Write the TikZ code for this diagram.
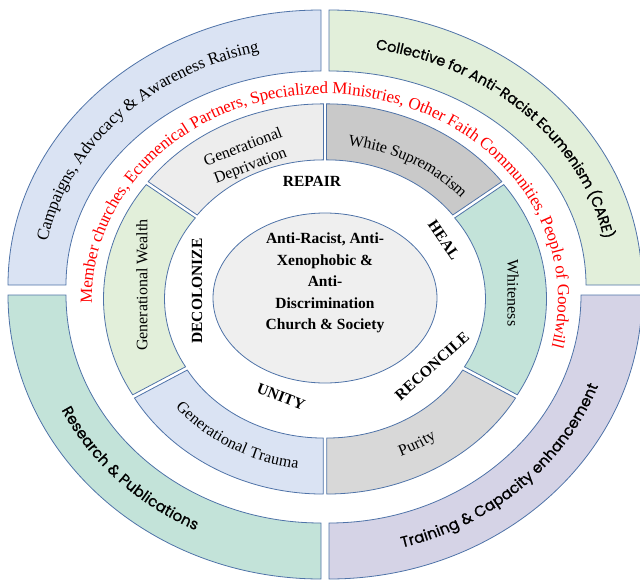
\documentclass[tikz,border=0pt]{standalone}
\usepackage{fontspec}
\setmainfont{Liberation Serif}
\newfontfamily\gothic{Poppins}[FakeBold=1]
\usetikzlibrary{calc,decorations.text}
\definecolor{rimline}{HTML}{4F73A8}
\definecolor{qblue}{HTML}{DAE3F3}
\definecolor{qgreen}{HTML}{E2EFDA}
\definecolor{qteal}{HTML}{C3E3D9}
\definecolor{qpurple}{HTML}{D5D3E6}
\definecolor{depr}{HTML}{EDEDED}
\definecolor{supr}{HTML}{C9C9C9}
\definecolor{puri}{HTML}{D8D8D8}
\definecolor{corefill}{HTML}{EFEFEF}

\begin{document}
\begin{tikzpicture}[x=1pt,y=1pt,
  piece/.style={draw=rimline,line width=0.8pt},
  word/.style={font=\fontsize{15.5}{15.5}\selectfont\bfseries},
  seg/.style={font=\fontsize{16}{20}\selectfont}]

\useasboundingbox (0,0) rectangle (640,-581);
\clip (0,0) rectangle (640,-581);

\coordinate (TL) at (321,-285);
\coordinate (TR) at (329,-285);
\coordinate (BL) at (321,-295);
\coordinate (BR) at (329,-295);
\coordinate (O)  at (325,-299);

\draw[piece,fill=qblue]   ($(TL)+(180:313pt and 275pt)$) arc[start angle=180,end angle=90,x radius=313pt,y radius=275pt]
                          -- ($(TL)+(90:255pt and 214pt)$) arc[start angle=90,end angle=180,x radius=255pt,y radius=214pt] -- cycle;
\draw[piece,fill=qgreen]  ($(TR)+(90:313pt and 275pt)$) arc[start angle=90,end angle=0,x radius=313pt,y radius=275pt]
                          -- ($(TR)+(0:257pt and 214pt)$) arc[start angle=0,end angle=90,x radius=257pt,y radius=214pt] -- cycle;
\draw[piece,fill=qteal]   ($(BL)+(180:313pt and 284pt)$) arc[start angle=180,end angle=270,x radius=313pt,y radius=284pt]
                          -- ($(BL)+(270:255pt and 228pt)$) arc[start angle=270,end angle=180,x radius=255pt,y radius=228pt] -- cycle;
\draw[piece,fill=qpurple] ($(BR)+(270:313pt and 284pt)$) arc[start angle=270,end angle=360,x radius=313pt,y radius=284pt]
                          -- ($(BR)+(0:252pt and 228pt)$) arc[start angle=360,end angle=270,x radius=252pt,y radius=228pt] -- cycle;

\draw[piece,fill=depr]   ($(O)+(116.75:3.5)+(90:218pt and 192pt)$) arc[start angle=90,end angle=143.5,x radius=218pt,y radius=192pt]
    -- ($(O)+(116.75:3.5)+(143.5:157pt and 136pt)$) arc[start angle=143.5,end angle=90,x radius=157pt,y radius=136pt] -- cycle;
\draw[piece,fill=supr]   ($(O)+(63.25:3.5)+(36.5:218pt and 192pt)$) arc[start angle=36.5,end angle=90,x radius=218pt,y radius=192pt]
    -- ($(O)+(63.25:3.5)+(90:157pt and 136pt)$) arc[start angle=90,end angle=36.5,x radius=157pt,y radius=136pt] -- cycle;
\draw[piece,fill=qteal]  ($(O)+(3.25:3.5)+(-30:218pt and 192pt)$) arc[start angle=-30,end angle=36.5,x radius=218pt,y radius=192pt]
    -- ($(O)+(3.25:3.5)+(36.5:157pt and 136pt)$) arc[start angle=36.5,end angle=-30,x radius=157pt,y radius=136pt] -- cycle;
\draw[piece,fill=puri]   ($(O)+(-60:3.5)+(-90:218pt and 192pt)$) arc[start angle=-90,end angle=-30,x radius=218pt,y radius=192pt]
    -- ($(O)+(-60:3.5)+(-30:157pt and 136pt)$) arc[start angle=-30,end angle=-90,x radius=157pt,y radius=136pt] -- cycle;
\draw[piece,fill=qblue]  ($(O)+(240:3.5)+(210:218pt and 192pt)$) arc[start angle=210,end angle=270,x radius=218pt,y radius=192pt]
    -- ($(O)+(240:3.5)+(270:157pt and 136pt)$) arc[start angle=270,end angle=210,x radius=157pt,y radius=136pt] -- cycle;
\draw[piece,fill=qgreen] ($(O)+(176.75:3.5)+(143.5:218pt and 192pt)$) arc[start angle=143.5,end angle=210,x radius=218pt,y radius=192pt]
    -- ($(O)+(176.75:3.5)+(210:157pt and 136pt)$) arc[start angle=210,end angle=143.5,x radius=157pt,y radius=136pt] -- cycle;

\draw[piece,fill=corefill] (325,-298) ellipse[x radius=112pt,y radius=85pt];

\path[decorate,decoration={text along path,text align=center,raise=-5pt,
    text={|\fontsize{17}{17}\selectfont|Campaigns, Advocacy {\&} Awareness Raising}}]
  ($(TL)+(182:283pt and 244pt)$) arc[start angle=182,end angle=92,x radius=283pt,y radius=244pt];
\path[decorate,decoration={text along path,text align=center,raise=-5pt,
    text={|\gothic\fontsize{14.5}{14.5}\selectfont|Collective for Anti-Racist Ecumenism (CARE)}}]
  ($(TR)+(90:285pt and 244pt)$) arc[start angle=90,end angle=0,x radius=285pt,y radius=244pt];
\path[decorate,decoration={text along path,text align=center,raise=-5pt,
    text={|\gothic\fontsize{15}{15}\selectfont|Research {\&} Publications}}]
  ($(BL)+(179:284pt and 256pt)$) arc[start angle=179,end angle=269,x radius=284pt,y radius=256pt];
\path[decorate,decoration={text along path,text align=center,raise=-5pt,
    text={|\gothic\fontsize{15}{15}\selectfont|Training {\&} Capacity enhancement}}]
  ($(BR)+(268:282pt and 256pt)$) arc[start angle=268,end angle=358,x radius=282pt,y radius=256pt];

\path[decorate,decoration={text along path,text align=center,raise=-4pt,text color=red,
    text={|\fontsize{17}{17}\selectfont|Member churches, Ecumenical Partners, Specialized Ministries, Other Faith Communities, People of Goodwill}}]
  ($(O)+(202:237pt and 209pt)$) arc[start angle=202,end angle=-34,x radius=237pt,y radius=209pt];

\path[decorate,decoration={text along path,text align=center,raise=-5pt,
    text={|\fontsize{16}{16}\selectfont|White Supremacism}}]
  ($(O)+(95:184pt and 160pt)$) arc[start angle=95,end angle=27,x radius=184pt,y radius=160pt];
\path[decorate,decoration={text along path,text align=center,raise=-5pt,
    text={|\fontsize{16}{16}\selectfont|Generational Trauma}}]
  ($(O)+(207:188pt and 166pt)$) arc[start angle=207,end angle=273,x radius=188pt,y radius=166pt];
\path[decorate,decoration={text along path,text align=center,raise=-5pt,
    text={|\fontsize{16}{16}\selectfont|Purity}}]
  ($(O)+(-90:188pt and 166pt)$) arc[start angle=-90,end angle=-30,x radius=188pt,y radius=166pt];

\node[seg,rotate=-90] (whiteness) at (513,-293) {Whiteness};
\node[seg,rotate=90] (wealth) at (142,-285) {Generational Wealth};
\node[seg,rotate=21,align=center] (deprivation) at (247,-157) {Generational\\Deprivation};

\node[word] (repair) at (312,-181) {REPAIR};
\node[word,rotate=-56] (heal) at (444,-240) {HEAL};
\node[word,rotate=42] (reconcile) at (432,-366) {RECONCILE};
\node[word,rotate=-21] (unity) at (281,-397) {UNITY};
\node[word,rotate=90] (decolonize) at (197,-291) {DECOLONIZE};

\node[align=center,font=\fontsize{15.5}{21.5}\selectfont\bfseries] (core) at (325,-283)
  {Anti-Racist, Anti-\\Xenophobic \&\\Anti-\\Discrimination\\Church \& Society};

\end{tikzpicture}
\end{document}
